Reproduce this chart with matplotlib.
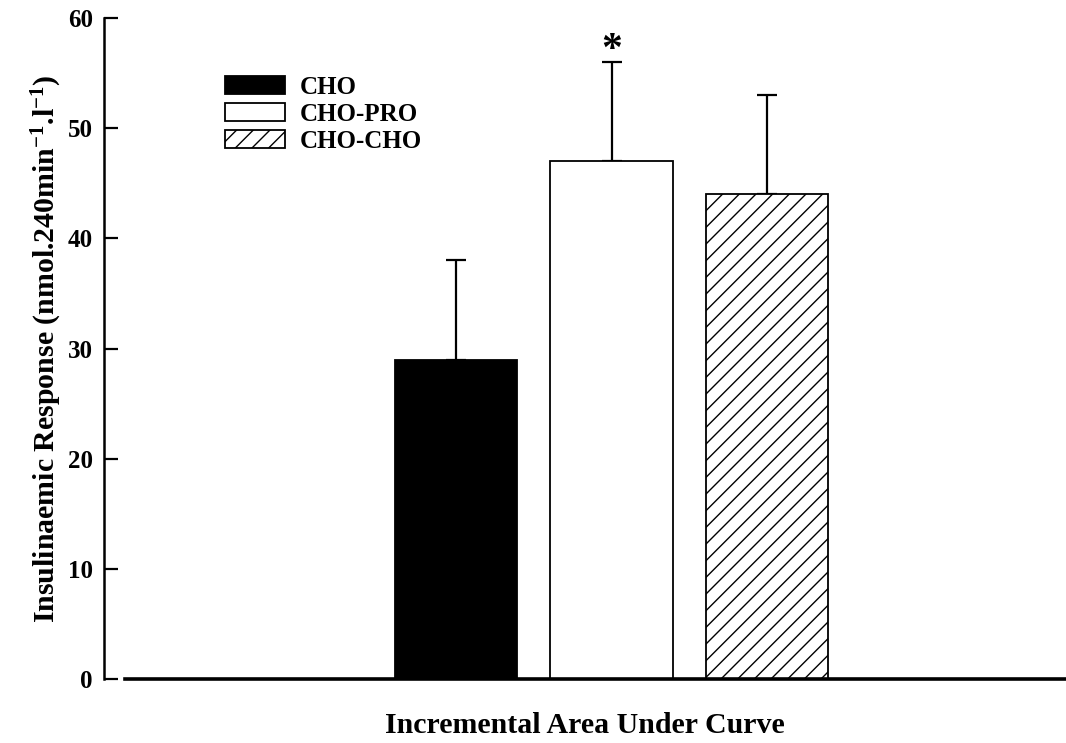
import matplotlib
matplotlib.use("Agg")
import matplotlib.pyplot as plt
import numpy as np

groups = ["CHO", "CHO-PRO", "CHO-CHO"]
means = [29, 47, 44]
sem = [9, 9, 9]
yticks = [0, 10, 20, 30, 40, 50, 60]
ylabel = r"Insulinaemic Response (nmol.240min$^{\mathbf{-1}}$.l$^{\mathbf{-1}}$)"
xlabel = "Incremental Area Under Curve"

plt.rcParams["font.family"] = ["Liberation Serif", "DejaVu Serif"]
plt.rcParams["font.weight"] = "bold"
plt.rcParams["mathtext.fontset"] = "custom"
plt.rcParams["mathtext.rm"] = "Liberation Serif:bold"
plt.rcParams["mathtext.it"] = "Liberation Serif:bold"
plt.rcParams["mathtext.bf"] = "Liberation Serif:bold"
plt.rcParams["hatch.linewidth"] = 1.0

fig = plt.figure(figsize=(10.66, 7.43), dpi=100)
W, H = 1066, 743
ax = fig.add_axes([104 / W, (743 - 679) / H, (1066 - 104) / W, (679 - 18) / H])

x = np.arange(len(groups))
faces = ["black", "white", "white"]
hatches = [None, None, "//"]
for i in range(len(groups)):
    ax.bar(x[i], means[i], width=0.785, color=faces[i], edgecolor="black",
           linewidth=1.3, hatch=hatches[i], label=groups[i], zorder=2)
ax.errorbar(x, means, yerr=[np.zeros(len(sem)), sem], fmt="none", ecolor="black",
            elinewidth=1.6, capsize=7.5, capthick=1.6, zorder=1)

ax.text(x[1], means[1] + sem[1] - 0.7, "*", ha="center", va="bottom", fontsize=30)

x0 = (104 - 456) / 155.5
x1 = (1066 - 456) / 155.5
ax.set_xlim(x0, x1)
ax.set_ylim(0, 60)
ax.set_yticks(yticks)
ax.set_xticks([])
for s in ["top", "right"]:
    ax.spines[s].set_visible(False)
ax.spines["left"].set_linewidth(1.8)
ax.spines["bottom"].set_linewidth(2.6)
ax.spines["bottom"].set_bounds((125 - 456) / 155.5, x1)
ax.tick_params(axis="y", direction="in", length=10, width=1.6, pad=8, labelsize=18)
for lab in ax.get_yticklabels():
    lab.set_fontweight("bold")

ax.set_ylabel(ylabel, fontsize=21.5, fontweight="bold")
ax.yaxis.set_label_coords(-0.042, 0.5)
ax.set_xlabel(xlabel, fontsize=21.5, fontweight="bold")
ax.xaxis.set_label_coords(0.5, -0.05)

leg = ax.legend(loc="upper left", bbox_to_anchor=(205 / W, 1 - 56 / H),
                bbox_transform=fig.transFigure, frameon=False, fontsize=18,
                handlelength=2.4, handleheight=0.72, labelspacing=0.15,
                handletextpad=0.6, borderpad=0.3)

fig.savefig("out.png", dpi=100)
